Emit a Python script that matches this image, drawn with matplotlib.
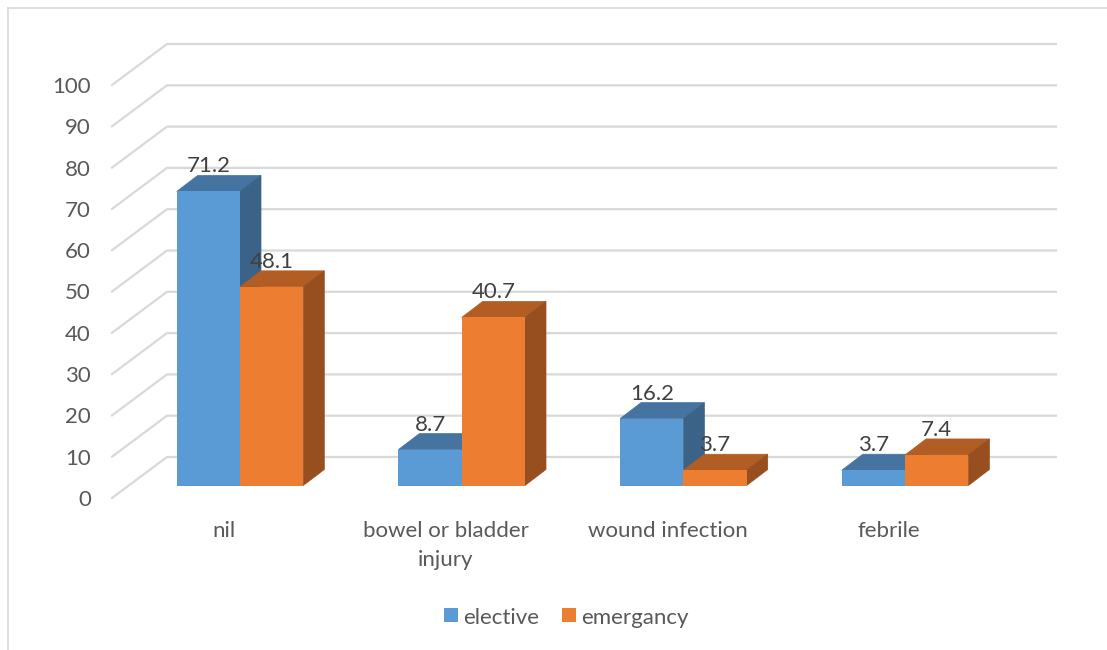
import matplotlib.pyplot as plt
from matplotlib.patches import Polygon, Rectangle

categories = ['nil', 'bowel or bladder\ninjury', 'wound infection', 'febrile']
elective = [71.2, 8.7, 16.2, 3.7]
emergancy = [48.1, 40.7, 3.7, 7.4]
value_ticks = [0, 10, 20, 30, 40, 50, 60, 70, 80, 90, 100]

W, H = 1107, 650
BASE_PX = 485.5
PX_PER_VALUE = 4.13
PX_PER_GROUP = 221.7
FIRST_GROUP_PX = 240.0

# bar box sizes, in data units
BAR_W = 63.3 / PX_PER_GROUP
DEPTH_X = 21.0 / PX_PER_GROUP
DEPTH_Y = 16.0 / PX_PER_VALUE

# floor of the chart: front and back edge relative to the bar base
FLOOR_FRONT = -12.5 / PX_PER_VALUE
FLOOR_BACK = 28.5 / PX_PER_VALUE
WALL_LEFT = (167 - FIRST_GROUP_PX) / PX_PER_GROUP
WALL_RIGHT = (1056 - FIRST_GROUP_PX) / PX_PER_GROUP
FRONT_LEFT = (112 - FIRST_GROUP_PX) / PX_PER_GROUP

BLUE = ('#5b9bd5', '#44749f', '#3a6387')
ORANGE = ('#ed7d31', '#b15d24', '#974f1f')
GRID = '#d9d9d9'
TEXT = '#595959'
LABEL = '#404040'
FONT_SIZE = 16

plt.rcParams['font.family'] = ['Lato', 'DejaVu Sans']

fig = plt.figure(figsize=(W / 100, H / 100), dpi=100, facecolor='white')
ax = fig.add_axes([0, 0, 1, 1])
ax.set_xlim(-FIRST_GROUP_PX / PX_PER_GROUP, (W - FIRST_GROUP_PX) / PX_PER_GROUP)
ax.set_ylim((BASE_PX - H) / PX_PER_VALUE, BASE_PX / PX_PER_VALUE)
ax.axis('off')


def draw_bar(x_left, value, colors):
    """Draw one pseudo 3D bar: front face, top and right side."""
    x_right = x_left + BAR_W
    ax.add_patch(Polygon([(x_left, value), (x_left + DEPTH_X, value + DEPTH_Y),
                          (x_right + DEPTH_X, value + DEPTH_Y), (x_right, value)],
                         fc=colors[1], ec=colors[1], lw=0.5, zorder=3))
    ax.add_patch(Polygon([(x_right, 0), (x_right + DEPTH_X, DEPTH_Y),
                          (x_right + DEPTH_X, value + DEPTH_Y), (x_right, value)],
                         fc=colors[2], ec=colors[2], lw=0.5, zorder=3))
    ax.bar(x_left, value, width=BAR_W, align='edge', color=colors[0], zorder=3)


# outer frame, open on the right and at the bottom
ax.plot([8 / PX_PER_GROUP + ax.get_xlim()[0]] * 2,
        [ax.get_ylim()[0], BASE_PX / PX_PER_VALUE - 8 / PX_PER_VALUE],
        color=GRID, lw=1.2, zorder=1)
ax.plot([8 / PX_PER_GROUP + ax.get_xlim()[0], ax.get_xlim()[1]],
        [BASE_PX / PX_PER_VALUE - 8 / PX_PER_VALUE] * 2,
        color=GRID, lw=1.2, zorder=1)

# gridlines on the wall, running down the side wall to the axis labels
for v in value_ticks:
    ax.plot([FRONT_LEFT, WALL_LEFT, WALL_RIGHT],
            [v + FLOOR_FRONT, v + FLOOR_BACK, v + FLOOR_BACK],
            color=GRID, lw=1.6, zorder=2, solid_joinstyle='miter')
    ax.text((91 - FIRST_GROUP_PX) / PX_PER_GROUP, v + FLOOR_FRONT - 2 / PX_PER_VALUE, str(v),
            ha='right', va='center', fontsize=FONT_SIZE, color=TEXT)

# bars and value labels, the labels sit just above the back edge of each top
label_lift = 9 / PX_PER_VALUE
for i, cat in enumerate(categories):
    draw_bar(i - BAR_W, elective[i], BLUE)
    draw_bar(i, emergancy[i], ORANGE)
    ax.text(i - BAR_W / 2, elective[i] + DEPTH_Y + label_lift, f'{elective[i]:g}',
            ha='center', va='center', fontsize=FONT_SIZE, color=LABEL, zorder=5)
    ax.text(i + BAR_W / 2, emergancy[i] + DEPTH_Y + label_lift, f'{emergancy[i]:g}',
            ha='center', va='center', fontsize=FONT_SIZE, color=LABEL, zorder=5)
    ax.text(i - 0.072, -8.6, cat, ha='center', va='top', fontsize=FONT_SIZE,
            color=TEXT, linespacing=1.55)

# legend
for px, name, color in [(444, 'elective', BLUE[0]), (562, 'emergancy', ORANGE[0])]:
    x0 = (px - FIRST_GROUP_PX) / PX_PER_GROUP
    ax.add_patch(Rectangle((x0, (BASE_PX - 622) / PX_PER_VALUE), 14 / PX_PER_GROUP,
                           14 / PX_PER_VALUE, fc=color, ec='none'))
    ax.text(x0 + 19 / PX_PER_GROUP, (BASE_PX - 617.5) / PX_PER_VALUE, name,
            ha='left', va='center', fontsize=FONT_SIZE, color=TEXT)

fig.savefig('out.png', dpi=100)
